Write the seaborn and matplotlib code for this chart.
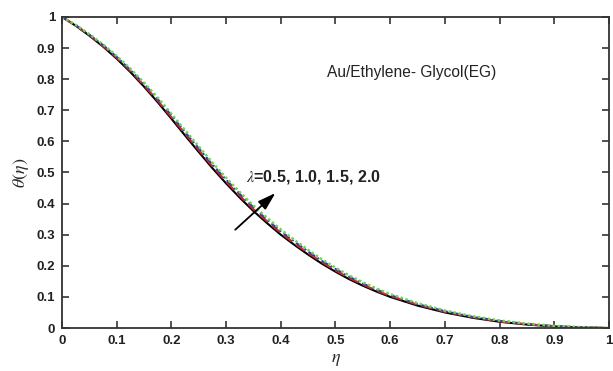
import numpy as np
import pandas as pd
import matplotlib
matplotlib.use("Agg")
import matplotlib.pyplot as plt
import seaborn as sns

# Temperature profiles theta(eta) for several lambda values
eta = [0.0, 0.025, 0.05, 0.075, 0.1, 0.125, 0.15, 0.175, 0.2, 0.225, 0.25,
       0.275, 0.3, 0.325, 0.35, 0.375, 0.4, 0.425, 0.45, 0.475, 0.5,
       0.525, 0.55, 0.575, 0.6, 0.65, 0.7, 0.75, 0.8, 0.85, 0.9, 0.95, 1.0]
theta_l05 = [1.0, 0.972, 0.940, 0.905, 0.866, 0.823, 0.776, 0.726, 0.673, 0.619, 0.566,
             0.514, 0.465, 0.419, 0.376, 0.337, 0.300, 0.267, 0.236, 0.207, 0.181,
             0.157, 0.136, 0.117, 0.100, 0.072, 0.050, 0.033, 0.020, 0.011, 0.005, 0.0015, 0.0]
theta_l10 = [1.0, 0.973, 0.942, 0.907, 0.869, 0.827, 0.780, 0.731, 0.678, 0.625, 0.572,
             0.520, 0.471, 0.425, 0.382, 0.343, 0.306, 0.272, 0.241, 0.212, 0.185,
             0.161, 0.140, 0.120, 0.103, 0.075, 0.052, 0.035, 0.021, 0.012, 0.006, 0.002, 0.0]
theta_l15 = [1.0, 0.974, 0.943, 0.910, 0.872, 0.830, 0.785, 0.736, 0.684, 0.630, 0.578,
             0.526, 0.477, 0.431, 0.388, 0.348, 0.311, 0.278, 0.246, 0.216, 0.190,
             0.165, 0.143, 0.124, 0.106, 0.077, 0.054, 0.036, 0.023, 0.013, 0.006, 0.002, 0.0]
theta_l20 = [1.0, 0.975, 0.945, 0.912, 0.875, 0.834, 0.789, 0.741, 0.689, 0.636, 0.584,
             0.532, 0.483, 0.437, 0.394, 0.354, 0.317, 0.283, 0.251, 0.221, 0.194,
             0.169, 0.147, 0.127, 0.109, 0.080, 0.056, 0.038, 0.024, 0.014, 0.007, 0.0025, 0.0]
lambdas = ["0.5", "1.0", "1.5", "2.0"]
series = [theta_l05, theta_l10, theta_l15, theta_l20]
tick_labels = ["0", "0.1", "0.2", "0.3", "0.4", "0.5", "0.6", "0.7", "0.8", "0.9", "1"]

colors = ["black", "#e0202a", "#2e3fb0", "#6fd84a"]
styles = ["-", (0, (5, 2.5)), (0, (4, 1.5, 1, 1.5)), (0, (1, 1))]
widths = [1.5, 1.5, 1.4, 1.8]

sns.set_theme(style="ticks")
plt.rcParams["font.family"] = ["Liberation Sans", "DejaVu Sans"]
plt.rcParams["mathtext.fontset"] = "stix"

fig = plt.figure(figsize=(6.13, 3.71), dpi=100)
ax = fig.add_axes([0.1011, 0.1159, 0.8924, 0.8383])

for lam, th, c, ls, lw in zip(lambdas, series, colors, styles, widths):
    df = pd.DataFrame({"eta": eta, "theta": th})
    sns.lineplot(data=df, x="eta", y="theta", ax=ax, color=c,
                 linestyle=ls, linewidth=lw, legend=False)

ax.set_xlim(0, 1)
ax.set_ylim(0, 1)
ax.set_xticks(np.arange(0, 1.01, 0.1))
ax.set_yticks(np.arange(0, 1.01, 0.1))
ax.set_xticklabels(tick_labels)
ax.set_yticklabels(tick_labels)
ax.tick_params(direction="in", top=True, right=True, length=5, width=1.2,
               labelsize=9.5, color="#333333", labelcolor="#222222", pad=5)
for lbl in ax.get_xticklabels() + ax.get_yticklabels():
    lbl.set_fontweight("bold")
for sp in ax.spines.values():
    sp.set_visible(True)
    sp.set_linewidth(1.3)
    sp.set_color("#333333")

ax.set_xlabel(r"$\eta$", fontsize=13, labelpad=3)
ax.set_ylabel(r"$\theta(\eta)$", fontsize=13, labelpad=4)

ax.text(0.485, 0.82, "Au/Ethylene- Glycol(EG)", transform=ax.transAxes,
        fontsize=11.2, color="#222222", ha="left", va="center")
ax.text(0.337, 0.487, r"$\lambda$" + "=0.5, 1.0, 1.5, 2.0", transform=ax.transAxes,
        fontsize=11.6, fontweight="bold", color="#222222", ha="left", va="center")
ax.annotate("", xy=(0.394, 0.44), xytext=(0.313, 0.31), xycoords="axes fraction",
            arrowprops=dict(arrowstyle="-|>,head_length=0.9,head_width=0.28",
                            color="black", lw=1.3))

fig.savefig("out.png", dpi=100)
